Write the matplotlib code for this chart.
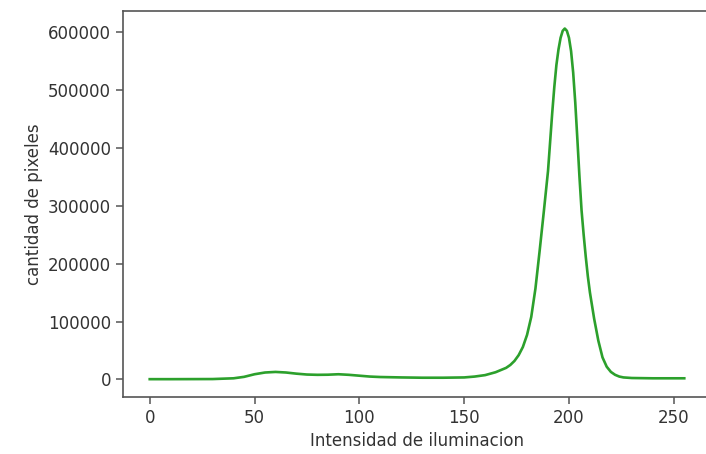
import matplotlib
matplotlib.use("Agg")
import matplotlib.pyplot as plt

intensidad = [0, 10, 20, 30, 40, 45, 50, 55, 60, 65, 70, 75, 80, 85, 90, 95,
              100, 105, 110, 120, 130, 140, 150, 155, 160, 165, 170, 172, 174,
              176, 178, 180, 182, 184, 186, 188, 190, 191, 192, 193, 194, 195,
              196, 197, 198, 199, 200, 201, 202, 203, 204, 205, 206, 207, 208,
              209, 210, 212, 214, 216, 218, 220, 222, 224, 226, 230, 240, 250,
              255]
pixeles = [500, 500, 600, 700, 2000, 4500, 9000, 12000, 13000, 12000, 10000,
           8500, 8000, 8200, 9000, 8000, 6500, 5000, 4200, 3500, 3000, 3000,
           3500, 5000, 7500, 12500, 20000, 25000, 32000, 42000, 56000, 77000,
           108000, 157000, 222000, 290000, 360000, 410000, 460000, 505000,
           543000, 570000, 590000, 602000, 606000, 602000, 590000, 567000,
           530000, 478000, 415000, 350000, 292000, 250000, 212000, 178000,
           150000, 105000, 67000, 38000, 22000, 13000, 8000, 5000, 3500, 2500,
           2000, 2000, 2000]

plt.rcParams['font.family'] = ['DejaVu Sans']
plt.rcParams['font.size'] = 12

fig = plt.figure(figsize=(7.06, 4.54), dpi=100)
ax = fig.add_axes([123 / 706, 57.3 / 454, (711 - 123) / 706, (396.7 - 11) / 454])
ax.plot(intensidad, pixeles, color='#2ca02c', linewidth=1.9)
ax.set_xlabel('Intensidad de iluminacion', color='#333333')
ax.set_ylabel('cantidad de pixeles', color='#333333')
ax.set_xticks([0, 50, 100, 150, 200, 250])
ax.set_yticks([0, 100000, 200000, 300000, 400000, 500000, 600000])
ax.tick_params(labelcolor='#333333', color='#555555', length=5, width=1.1)
for s in ax.spines.values():
    s.set_color('#555555')
    s.set_linewidth(1.2)
fig.savefig('out.png', dpi=100)
